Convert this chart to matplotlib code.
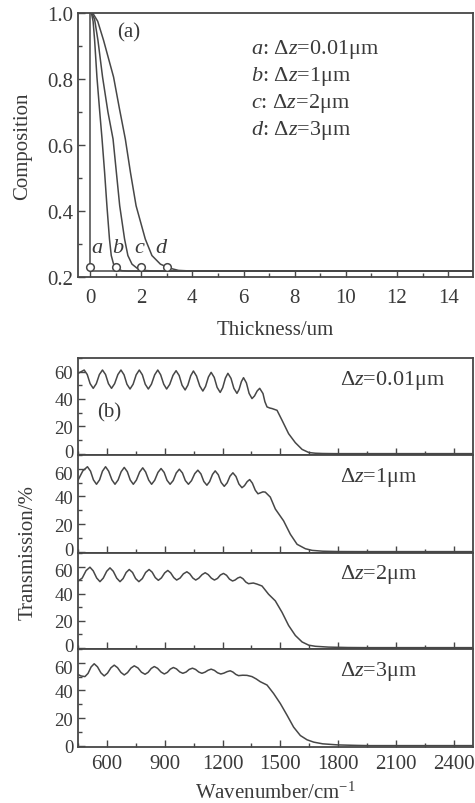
import matplotlib
matplotlib.use("Agg")
import matplotlib.pyplot as plt
from matplotlib.ticker import MultipleLocator
from matplotlib.transforms import ScaledTranslation

plt.rcParams['font.family'] = ['Liberation Serif', 'DejaVu Serif']
plt.rcParams['mathtext.fontset'] = 'custom'
plt.rcParams['mathtext.rm'] = 'Liberation Serif'
plt.rcParams['mathtext.it'] = 'Liberation Serif:italic'

INK = '#474747'
TXT = '#3a3a3a'

# ---- (a) composition profiles ----
thick_a = [0.0, 0.0, 15.0]
comp_a = [1.0, 0.218, 0.218]
thick_b = [0.0, 0.06, 0.12, 0.18, 0.27, 0.38, 0.47, 0.57, 0.66, 0.76, 0.83, 0.92, 1.05, 1.25, 1.5, 15.0]
comp_b = [1.0, 0.998, 0.975, 0.917, 0.806, 0.70, 0.618, 0.517, 0.416, 0.315, 0.265, 0.239, 0.225, 0.219, 0.218, 0.218]
thick_c = [0.0, 0.08, 0.18, 0.31, 0.49, 0.70, 0.90, 1.03, 1.16, 1.35, 1.48, 1.64, 1.85, 2.1, 2.5, 15.0]
comp_c = [1.0, 0.998, 0.98, 0.917, 0.806, 0.70, 0.618, 0.517, 0.416, 0.315, 0.265, 0.239, 0.226, 0.220, 0.218, 0.218]
thick_d = [0.0, 0.12, 0.30, 0.53, 0.92, 1.15, 1.38, 1.58, 1.80, 2.16, 2.42, 2.75, 3.1, 3.46, 4.0, 15.0]
comp_d = [1.0, 0.998, 0.975, 0.917, 0.806, 0.71, 0.618, 0.517, 0.416, 0.315, 0.265, 0.239, 0.227, 0.220, 0.218, 0.218]
curve_names = ['a', 'b', 'c', 'd']
dz_values = [0.0, 1.0, 2.0, 3.0]
dz_marker_level = 0.229
legend_lines = [r'$a$: Δ$z$=0.01μm', r'$b$: Δ$z$=1μm', r'$c$: Δ$z$=2μm', r'$d$: Δ$z$=3μm']

# ---- (b) transmission spectra ----
wn1 = [451, 482, 498, 513, 529, 545, 561, 577, 593, 608, 624, 640, 657, 673, 689, 704, 720, 736, 752, 768,
       784, 799, 815, 831, 848, 864, 879, 895, 910, 926, 943, 959, 975, 990, 1006, 1020, 1035, 1049, 1065, 1082,
       1098, 1112, 1127, 1141, 1157, 1172, 1188, 1201, 1215, 1228, 1244, 1259, 1275, 1286, 1298, 1309, 1324, 1338,
       1353, 1366, 1380, 1393, 1410, 1420, 1431, 1445, 1457, 1483, 1509, 1543, 1578, 1613, 1648, 1682, 1720, 1780,
       1850, 2500]
T1 = [58.8, 61.2, 57.9, 51.2, 47.8, 51.2, 57.9, 61.2, 57.9, 51.2, 47.8, 51.2, 57.9, 61.2, 57.7, 50.8, 47.3, 50.8,
      57.7, 61.2, 57.7, 50.8, 47.3, 50.8, 57.7, 61.2, 57.7, 50.8, 47.3, 50.7, 57.3, 60.7, 57.2, 50.1, 46.6, 50.1,
      57.0, 60.5, 56.8, 49.5, 45.8, 49.2, 56.1, 59.5, 55.8, 48.5, 44.8, 48.3, 55.3, 58.8, 55.1, 47.8, 44.1, 47.0,
      52.7, 55.6, 51.8, 44.1, 40.3, 42.2, 45.9, 47.8, 44.0, 38.0, 34.2, 33.4, 33.0, 31.7, 24.4, 14.6, 8.0, 3.1,
      0.8, 0.3, 0.1, 0.0, 0.0, 0.0]

wn2 = [451, 475, 499, 515, 530, 546, 562, 577, 593, 609, 626, 642, 658, 674, 690, 706, 721, 737, 753, 770,
       786, 801, 817, 832, 848, 865, 881, 897, 912, 928, 944, 960, 976, 992, 1007, 1023, 1039, 1056, 1072, 1088,
       1103, 1119, 1133, 1148, 1162, 1178, 1193, 1209, 1224, 1239, 1254, 1270, 1285, 1301, 1314, 1328, 1341, 1355,
       1370, 1384, 1397, 1410, 1422, 1448, 1474, 1517, 1552, 1587, 1630, 1665, 1720, 1800, 1900, 2500]
T2 = [52.0, 58.5, 61.5, 58.3, 52.0, 48.8, 52.0, 58.3, 61.5, 58.3, 52.0, 48.8, 51.9, 57.9, 61.0, 57.9, 51.9, 48.8,
      51.8, 57.7, 60.7, 57.7, 51.8, 48.8, 51.7, 57.4, 60.2, 57.4, 51.7, 48.8, 51.5, 57.0, 59.7, 57.0, 51.5, 48.8,
      51.4, 56.5, 59.0, 56.3, 50.8, 48.1, 50.7, 55.9, 58.5, 55.7, 50.1, 47.3, 49.8, 54.7, 57.1, 54.4, 49.0, 46.3,
      47.8, 50.7, 52.2, 49.6, 44.5, 41.9, 42.6, 43.3, 43.1, 39.5, 30.9, 22.3, 12.6, 5.3, 2.1, 0.9, 0.3, 0.05,
      0.0, 0.0]

wn3 = [451, 472, 492, 512, 529, 547, 564, 581, 599, 616, 633, 651, 668, 684, 700, 716, 733, 749, 766, 784,
       801, 819, 835, 851, 867, 883, 900, 916, 931, 947, 962, 980, 997, 1015, 1030, 1046, 1061, 1077, 1094, 1110,
       1126, 1142, 1158, 1174, 1189, 1205, 1221, 1236, 1252, 1265, 1279, 1292, 1306, 1321, 1335, 1360, 1379, 1405,
       1439, 1474, 1509, 1543, 1578, 1613, 1648, 1682, 1750, 1850, 1950, 2500]
T3 = [49.3, 51.5, 57.0, 59.5, 56.8, 51.5, 48.8, 51.4, 56.5, 59.0, 56.5, 51.4, 48.8, 51.1, 55.6, 57.8, 55.6, 51.1,
      48.8, 51.1, 55.6, 57.8, 55.8, 51.8, 49.8, 51.6, 55.3, 57.1, 55.3, 51.8, 50.0, 51.5, 54.6, 56.1, 54.6, 51.5,
      50.0, 51.4, 54.0, 55.4, 54.0, 51.4, 50.0, 51.2, 53.7, 54.9, 53.5, 50.7, 49.3, 50.0, 51.5, 52.2, 51.0, 48.5,
      47.3, 47.8, 47.0, 45.6, 39.5, 34.6, 26.1, 16.4, 9.0, 4.2, 1.8, 1.0, 0.4, 0.1, 0.0, 0.0]

wn4 = [451, 465, 486, 502, 518, 534, 551, 569, 586, 603, 621, 638, 655, 673, 690, 707, 725, 742, 761, 779,
       798, 814, 830, 846, 863, 881, 898, 914, 929, 945, 961, 978, 994, 1011, 1027, 1044, 1060, 1077, 1093, 1109,
       1125, 1141, 1158, 1174, 1191, 1207, 1224, 1240, 1254, 1269, 1283, 1305, 1327, 1353, 1375, 1396, 1431, 1465,
       1500, 1535, 1569, 1604, 1639, 1674, 1720, 1800, 1900, 1960, 2500]
T4 = [51.5, 50.5, 50.0, 52.3, 57.0, 59.3, 57.1, 52.7, 50.5, 52.5, 56.4, 58.3, 56.5, 53.0, 51.2, 52.9, 56.2, 57.8,
      56.3, 53.2, 51.7, 53.1, 55.9, 57.3, 56.0, 53.3, 51.9, 53.1, 55.4, 56.6, 55.6, 53.4, 52.4, 53.3, 55.2, 56.1,
      55.2, 53.3, 52.4, 53.2, 54.6, 55.4, 54.5, 52.8, 51.9, 52.5, 53.6, 54.2, 53.3, 51.6, 50.7, 51.0, 50.9, 50.0,
      48.3, 46.3, 43.9, 37.8, 30.5, 22.0, 13.4, 7.3, 4.2, 2.5, 1.3, 0.5, 0.15, 0.0, 0.0]

spectra_labels = ['Δ$z$=0.01μm', 'Δ$z$=1μm', 'Δ$z$=2μm', 'Δ$z$=3μm']
spectra = [(wn1, T1), (wn2, T2), (wn3, T3), (wn4, T4)]
wn_ticks = [600, 900, 1200, 1500, 1800, 2100, 2400]
T_ticks = [0, 20, 40, 60]

FS = 15
FS_NOTE = 16


def style_axes(ax, ylabelsize=FS):
    for sp in ax.spines.values():
        sp.set_color(INK)
        sp.set_linewidth(1.3)
    ax.tick_params(which='both', direction='in', top=False, right=False,
                   color=INK, labelcolor=TXT, labelsize=FS, width=1.0)
    ax.tick_params(axis='y', labelsize=ylabelsize)
    ax.tick_params(which='major', length=5)
    ax.tick_params(which='minor', length=3)


fig = plt.figure(figsize=(4.75, 8.04), dpi=100)
fig.patch.set_facecolor('white')

W, H = 475.0, 804.0
left, right = 78 / W, 473 / W

# composition panel
axa = fig.add_axes([left, 1 - 278 / H, right - left, (278 - 14) / H])
for tx, cy in [(thick_a, comp_a), (thick_b, comp_b), (thick_c, comp_c), (thick_d, comp_d)]:
    axa.plot(tx, cy, color=INK, lw=1.1, solid_joinstyle='round')
axa.plot(dz_values, [dz_marker_level] * len(dz_values), linestyle='none', marker='o',
         ms=5.5, mfc='white', mec=INK, mew=1.1, zorder=5)
for name, xpos in zip(curve_names, [0.26, 1.07, 1.93, 2.77]):
    axa.text(xpos, 0.29, name, fontsize=FS_NOTE, style='italic', color=TXT,
             ha='center', va='center')
axa.text(1.05, 0.942, '(a)', fontsize=FS, color=TXT, ha='left', va='center')
for i, line in enumerate(legend_lines):
    axa.text(6.28, 0.891 - i * 0.081, line, fontsize=FS_NOTE, color=TXT, ha='left', va='center')
axa.set_xlim(-0.47, 14.97)
axa.set_ylim(0.2, 1.0)
axa.xaxis.set_major_locator(MultipleLocator(2))
axa.xaxis.set_minor_locator(MultipleLocator(1))
axa.yaxis.set_major_locator(MultipleLocator(0.2))
axa.yaxis.set_minor_locator(MultipleLocator(0.1))
style_axes(axa)
axa.tick_params(axis='x', pad=8)
axa.set_xlabel('Thickness/um', fontsize=FS, color=TXT, labelpad=9)
axa.set_ylabel('Composition', fontsize=FS, color=TXT, labelpad=11)

# transmission panels
edges = [359, 456, 554, 650, 748]
axes_b = []
for k in range(4):
    top, bot = edges[k], edges[k + 1]
    ax = fig.add_axes([left, 1 - bot / H, right - left, (bot - top) / H])
    wn, T = spectra[k]
    ax.plot(wn, T, color=INK, lw=1.1, solid_joinstyle='round')
    ax.set_xlim(450, 2500)
    ax.set_ylim(-1, 70)
    ax.set_xticks(wn_ticks)
    ax.xaxis.set_minor_locator(MultipleLocator(150))
    ax.set_yticks(T_ticks)
    ax.yaxis.set_minor_locator(MultipleLocator(10))
    ax.text(1812, 54.6, spectra_labels[k], fontsize=FS_NOTE, color=TXT, ha='left', va='center')
    style_axes(ax, ylabelsize=13.5)
    if k < 3:
        ax.tick_params(labelbottom=False)
    axes_b.append(ax)

axes_b[0].text(548, 30.5, '(b)', fontsize=FS, color=TXT, ha='left', va='center')
axes_b[3].tick_params(axis='x', pad=5)
axes_b[3].set_xlabel('Wavenumber/cm$^{-1}$', fontsize=FS, color=TXT, labelpad=6)
fig.text(28 / W, 1 - 553 / H, 'Transmission/%', rotation=90, fontsize=FS,
         color=TXT, ha='center', va='center')

# stacked panels share a boundary: nudge the "0" and "60" labels apart there
fig.canvas.draw()
up = ScaledTranslation(0, 3.2 / 100, fig.dpi_scale_trans)
down = ScaledTranslation(0, -3.2 / 100, fig.dpi_scale_trans)
for k, ax in enumerate(axes_b):
    for tk, loc in zip(ax.yaxis.get_major_ticks(), ax.get_yticks()):
        if loc == 0 and k < 3:
            tk.label1.set_transform(tk.label1.get_transform() + up)
        elif loc == 60 and k > 0:
            tk.label1.set_transform(tk.label1.get_transform() + down)

fig.savefig('out.png', dpi=100, facecolor='white')
